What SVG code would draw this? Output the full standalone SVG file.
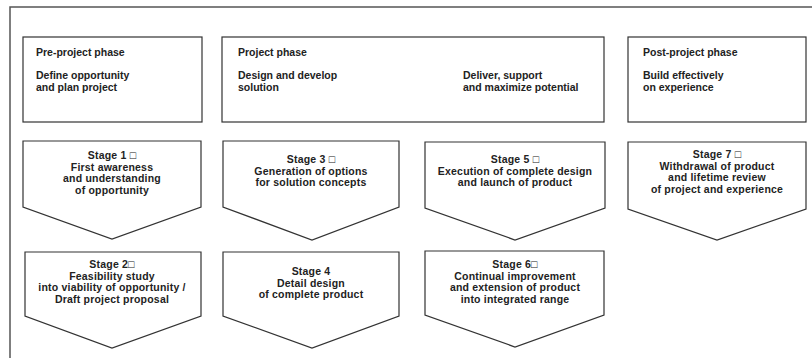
<svg xmlns="http://www.w3.org/2000/svg" width="812" height="358" viewBox="0 0 812 358">
<style>
.frame{fill:none;stroke:#555;stroke-width:1.5}
.box{fill:#fff;stroke:#333;stroke-width:1.2}
.pt{font-family:"Liberation Sans",Arial,sans-serif;font-size:10.5px;font-weight:bold;fill:#222}
.st{font-family:"Liberation Sans",Arial,sans-serif;font-size:10.5px;letter-spacing:0.2px;font-weight:bold;fill:#222;text-anchor:middle}
</style>
<rect width="812" height="358" fill="#fff"/>
<g id="frame"><path class="frame" d="M10,358 V7 H812"/></g>
<g id="connectors"></g>
<g id="pre-project">
<rect class="box" x="23" y="37" width="179" height="85"/>
<text class="pt" x="36" y="56">Pre-project phase</text>
<text class="pt" x="36" y="79">Define opportunity</text>
<text class="pt" x="36" y="91">and plan project</text>
</g>
<g id="project">
<rect class="box" x="222" y="37" width="382" height="85"/>
<text class="pt" x="238" y="56">Project phase</text>
<text class="pt" x="238" y="79">Design and develop</text>
<text class="pt" x="238" y="91">solution</text>
<text class="pt" x="463" y="79">Deliver, support</text>
<text class="pt" x="463" y="91">and maximize potential</text>
</g>
<g id="post-project">
<rect class="box" x="628" y="37" width="178" height="85"/>
<text class="pt" x="643" y="56">Post-project phase</text>
<text class="pt" x="643" y="79">Build effectively</text>
<text class="pt" x="643" y="91">on experience</text>
</g>
<g id="stage1">
<path class="box" d="M23,141 H201 V207 L112,239 L23,207 Z"/>
<text class="st" x="112" y="159">Stage 1 □</text>
<text class="st" x="112" y="170.5">First awareness</text>
<text class="st" x="112" y="182">and understanding</text>
<text class="st" x="112" y="193.5">of opportunity</text>
</g>
<g id="stage3">
<path class="box" d="M223,141 H399 V207 L312,240 L223,207 Z"/>
<text class="st" x="311" y="163">Stage 3 □</text>
<text class="st" x="311" y="174.5">Generation of options</text>
<text class="st" x="311" y="186">for solution concepts</text>
</g>
<g id="stage5">
<path class="box" d="M425,142 H605 V208 L515,240 L425,208 Z"/>
<text class="st" x="515" y="163">Stage 5 □</text>
<text class="st" x="515" y="174.5">Execution of complete design</text>
<text class="st" x="515" y="186">and launch of product</text>
</g>
<g id="stage7">
<path class="box" d="M628,142 H806 V209 L717,240 L628,209 Z"/>
<text class="st" x="717" y="158">Stage 7 □</text>
<text class="st" x="717" y="169.5">Withdrawal of product</text>
<text class="st" x="717" y="181">and lifetime review</text>
<text class="st" x="717" y="192.5">of project and experience</text>
</g>
<g id="stage2">
<path class="box" d="M25,252 H201 V316 L112,348 L25,316 Z"/>
<text class="st" x="112" y="268">Stage 2□</text>
<text class="st" x="112" y="279.5">Feasibility study</text>
<text class="st" x="112" y="291">into viability of opportunity /</text>
<text class="st" x="112" y="302.5">Draft project proposal</text>
</g>
<g id="stage4">
<path class="box" d="M223,252 H399 V316 L312,348 L223,316 Z"/>
<text class="st" x="311" y="275">Stage 4</text>
<text class="st" x="311" y="286.5">Detail design</text>
<text class="st" x="311" y="298">of complete product</text>
</g>
<g id="stage6">
<path class="box" d="M425,251 H604 V315 L515,347 L425,315 Z"/>
<text class="st" x="515" y="268">Stage 6□</text>
<text class="st" x="515" y="279.5">Continual improvement</text>
<text class="st" x="515" y="291">and extension of product</text>
<text class="st" x="515" y="302.5">into integrated range</text>
</g>
</svg>
